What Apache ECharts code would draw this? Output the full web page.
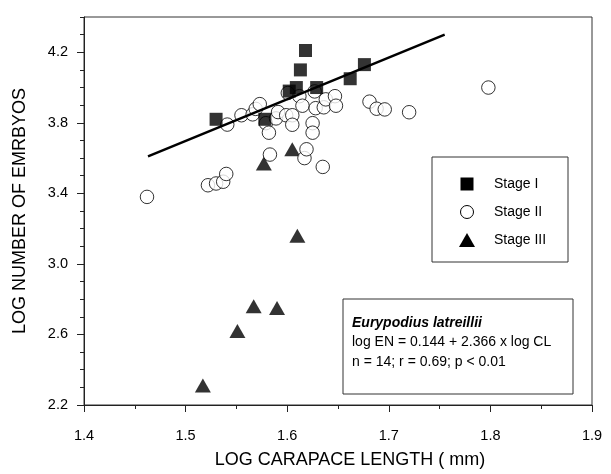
<!DOCTYPE html>
<html><head><meta charset="utf-8">
<script src="https://cdn.jsdelivr.net/npm/echarts@6/dist/echarts.min.js"></script>
<style>html,body{margin:0;padding:0;background:#fff}#c{width:611px;height:474px}</style>
</head><body><div id="c"></div>
<script>
// ---- data ----
const stageI = [
  [1.530, 3.82], [1.578, 3.82], [1.602, 3.98], [1.609, 4.00], [1.613, 4.10],
  [1.618, 4.21], [1.629, 4.00], [1.662, 4.05], [1.676, 4.13]
];
const stageII = [
  [1.462, 3.38], [1.522, 3.446], [1.530, 3.456], [1.537, 3.466], [1.540, 3.51],
  [1.541, 3.79], [1.555, 3.843], [1.566, 3.848], [1.569, 3.879], [1.573, 3.906],
  [1.579, 3.798], [1.582, 3.744], [1.583, 3.62], [1.589, 3.825], [1.591, 3.861],
  [1.599, 3.843], [1.6006, 3.969], [1.605, 3.843], [1.605, 3.789], [1.612, 3.951],
  [1.615, 3.897], [1.617, 3.60], [1.619, 3.65], [1.625, 3.798], [1.625, 3.744],
  [1.627, 3.978], [1.628, 3.883], [1.635, 3.55], [1.636, 3.888], [1.638, 3.933],
  [1.647, 3.951], [1.648, 3.897], [1.681, 3.92], [1.688, 3.88], [1.696, 3.876],
  [1.720, 3.86], [1.798, 4.00]
];
const stageIII = [
  [1.517, 2.31], [1.551, 2.62], [1.567, 2.76], [1.590, 2.75], [1.610, 3.16],
  [1.577, 3.57], [1.605, 3.65]
];
const fitLine = [[1.463, 3.61], [1.755, 4.30]];
const yLabelValues = [2.2, 2.6, 3.0, 3.4, 3.8, 4.2];
const legendNames = ['Stage I', 'Stage II', 'Stage III'];
const noteLines = ['Eurypodius latreillii', 'log EN = 0.144 + 2.366 x log CL', 'n = 14; r = 0.69; p < 0.01'];
const xTitle = 'LOG CARAPACE LENGTH ( mm)';
const yTitle = 'LOG NUMBER OF EMRBYOS';

// ---- chart ----
const FONT = 'Liberation Sans, Arial, sans-serif';
const INK = '#000';
const AX = '#222';
const chart = echarts.init(document.getElementById('c'), null, {renderer: 'canvas'});

const legendSizes = [[13, 13], [13, 13], [16, 14]];
const legendRowsY = [184, 212, 240];
const MX = 467;
const graphics = [
  {type: 'rect', shape: {x: 432, y: 157, width: 136, height: 105},
   style: {fill: '#fff', stroke: '#333', lineWidth: 1}, z: 10}
];
legendNames.forEach((n, i) => {
  const sz = legendSizes[i], cy = legendRowsY[i];
  let shape;
  if (i === 0) shape = {type: 'rect', shape: {x: MX - sz[0] / 2, y: cy - sz[1] / 2, width: sz[0], height: sz[1]}, style: {fill: INK}};
  else if (i === 1) shape = {type: 'circle', shape: {cx: MX, cy: cy, r: 6.5}, style: {fill: '#fff', stroke: INK, lineWidth: 1}};
  else shape = {type: 'polygon', shape: {points: [[MX, cy - 7], [MX + 8, cy + 7], [MX - 8, cy + 7]]}, style: {fill: INK}};
  shape.z = 11;
  graphics.push(shape);
  graphics.push({type: 'text', x: 494, y: cy, z: 11,
    style: {text: n, font: '14px ' + FONT, fill: INK, verticalAlign: 'middle'}});
});
graphics.push({type: 'rect', shape: {x: 343, y: 299, width: 230, height: 95},
  style: {fill: '#fff', stroke: '#333', lineWidth: 1}, z: 10});
const noteY = [323, 342, 362];
noteLines.forEach((t, i) => {
  graphics.push({type: 'text', x: 352, y: noteY[i], z: 11,
    style: {text: t, font: (i === 0 ? 'italic bold ' : '') + '14px ' + FONT, fill: INK, verticalAlign: 'middle'}});
});

chart.setOption({
  animation: false,
  backgroundColor: '#fff',
  grid: {left: 84, right: 19, top: 17, bottom: 68, show: true, borderColor: '#333', borderWidth: 1},
  xAxis: {
    type: 'value', min: 1.4, max: 1.9, interval: 0.1,
    name: xTitle, nameLocation: 'middle', nameGap: 46,
    nameTextStyle: {fontFamily: FONT, fontSize: 18, color: INK, padding: [0, 0, 0, 24]},
    axisLine: {lineStyle: {color: AX}},
    axisTick: {length: 7, lineStyle: {color: AX}},
    minorTick: {show: true, splitNumber: 2, length: 4, lineStyle: {color: AX}},
    splitLine: {show: false},
    axisLabel: {margin: 23, fontFamily: FONT, fontSize: 14.5, color: INK, formatter: v => v.toFixed(1)}
  },
  yAxis: [{
    type: 'value', min: 2.2, max: 4.4, interval: 0.1,
    name: yTitle, nameLocation: 'middle', nameGap: 55, nameRotate: 90,
    nameTextStyle: {fontFamily: FONT, fontSize: 18, color: INK},
    axisLine: {show: true, lineStyle: {color: AX}},
    axisTick: {length: 4, lineStyle: {color: AX}},
    splitLine: {show: false},
    axisLabel: {margin: 16, fontFamily: FONT, fontSize: 14.5, color: INK,
      customValues: yLabelValues, formatter: v => v.toFixed(1)}
  }, {
    type: 'value', min: 2.2, max: 4.4, position: 'left',
    axisLine: {show: false},
    axisTick: {show: true, length: 7, customValues: yLabelValues, lineStyle: {color: AX}},
    axisLabel: {show: false}, splitLine: {show: false}
  }],
  series: [
    {name: 'Stage III', type: 'scatter', data: stageIII, symbol: 'triangle', symbolSize: [16, 14],
     itemStyle: {color: INK}, z: 2},
    {name: 'Stage II', type: 'scatter', data: stageII, symbol: 'circle', symbolSize: 13.5,
     itemStyle: {color: '#fff', borderColor: INK, borderWidth: 1}, z: 3},
    {name: 'Stage I', type: 'scatter', data: stageI, symbol: 'rect', symbolSize: 13,
     itemStyle: {color: INK}, z: 4},
    {name: 'fit', type: 'line', data: fitLine, symbol: 'none',
     lineStyle: {color: INK, width: 2.5}, z: 5}
  ],
  graphic: graphics
});
</script></body></html>
